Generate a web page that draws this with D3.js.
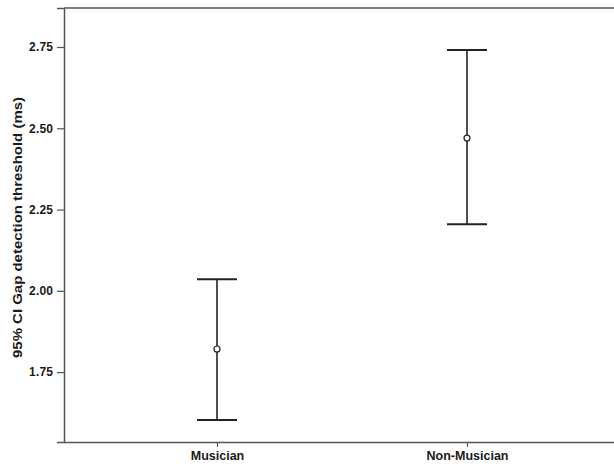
<!DOCTYPE html>
<html><head><meta charset="utf-8">
<script src="https://cdn.jsdelivr.net/npm/d3@7"></script>
<style>
html,body{margin:0;padding:0;background:#fff;}
svg{display:block;}
text{font-family:"Liberation Sans",Arial,sans-serif;font-weight:bold;fill:#1a1a1a;}
</style></head>
<body>
<svg id="chart" width="614" height="467"></svg>
<script>
const categories = ["Musician", "Non-Musician"];
const means = [1.821, 2.470];
const lower = [1.603, 2.205];
const upper = [2.036, 2.741];
const yTicks = [1.75, 2.00, 2.25, 2.50, 2.75];
const yTitle = "95% CI Gap detection threshold (ms)";

const svg = d3.select("#chart");
const pLeft = 64, pTop = 8, pBottom = 442, pRight = 620;

const x = d3.scalePoint().domain(categories).range([pLeft, pRight]).padding(0.612);
const y = d3.scaleLinear().domain([1.535, 2.87]).range([pBottom, pTop]);

const frameColor = "#555";

svg.append("line").attr("x1", pLeft).attr("x2", 614).attr("y1", pTop).attr("y2", pTop)
  .attr("stroke", frameColor).attr("stroke-width", 1.5);

const yAxis = svg.append("g").attr("transform", `translate(${pLeft},0)`)
  .call(d3.axisLeft(y).tickValues(yTicks).tickFormat(d3.format(".2f")).tickSize(7).tickPadding(4));
yAxis.attr("font-family", null);
yAxis.select(".domain").attr("stroke", frameColor).attr("stroke-width", 1.5);
yAxis.selectAll(".tick line").attr("stroke", frameColor).attr("stroke-width", 1.2);
yAxis.selectAll(".tick text").attr("font-size", "12px").attr("textLength", 24).style("fill", "#1a1a1a");

const xAxis = svg.append("g").attr("transform", `translate(0,${pBottom})`)
  .call(d3.axisBottom(x).tickSize(5).tickPadding(4).tickSizeOuter(0));
xAxis.attr("font-family", null);
xAxis.select(".domain").attr("stroke", frameColor).attr("stroke-width", 1.5)
  .attr("d", `M${pLeft},0.5H614`);
xAxis.selectAll(".tick line").attr("stroke", frameColor).attr("stroke-width", 1.2);
xAxis.selectAll(".tick text").attr("font-size", "12.5px").style("fill", "#1a1a1a");

svg.append("text")
  .attr("transform", `translate(22,${(97 + 358) / 2}) rotate(-90)`)
  .attr("text-anchor", "middle").attr("font-size", "13.5px")
  .attr("textLength", 261).attr("lengthAdjust", "spacingAndGlyphs").text(yTitle);

const data = categories.map((c, i) => ({c, m: means[i], lo: lower[i], hi: upper[i]}));
const g = svg.append("g");
const capHalf = 20, barColor = "#222";
data.forEach(d => {
  const cx = x(d.c);
  g.append("line").attr("x1", cx).attr("x2", cx).attr("y1", y(d.hi)).attr("y2", y(d.lo))
    .attr("stroke", barColor).attr("stroke-width", 1.6);
  [d.hi, d.lo].forEach(v => {
    g.append("line").attr("x1", cx - capHalf).attr("x2", cx + capHalf).attr("y1", y(v)).attr("y2", y(v))
      .attr("stroke", barColor).attr("stroke-width", 2);
  });
  g.append("circle").attr("cx", cx).attr("cy", y(d.m)).attr("r", 3)
    .attr("fill", "#fff").attr("stroke", barColor).attr("stroke-width", 1.2);
});
</script>
</body></html>
